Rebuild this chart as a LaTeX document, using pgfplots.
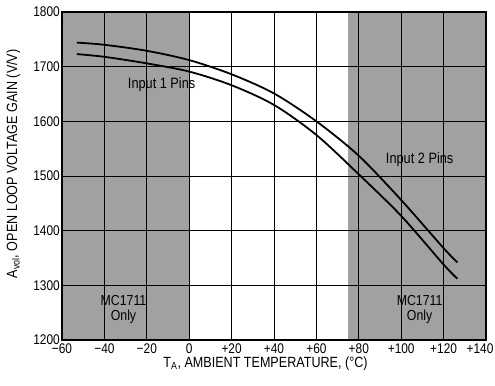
\documentclass[border=0pt]{standalone}
\usepackage{pgfplots}
\pgfplotsset{compat=1.18}
\usepackage{fontspec}
\setmainfont{Liberation Sans}[FakeStretch=0.85]

\begin{document}
\fontsize{14}{16}\selectfont
\begin{tikzpicture}
\begin{axis}[
    width=424pt, height=328pt, scale only axis,
    xmin=-60, xmax=140,
    ymin=1200, ymax=1800,
    xtick={-60,-40,...,140},
    xticklabels={−60,−40,−20,0,+20,+40,+60,+80,+100,+120,\hspace*{-12pt}+140},
    ytick={1200,1300,...,1800},
    yticklabels={\raisebox{-3pt}{1200},1300,1400,1500,1600,1700,1800},
    /pgf/number format/assume math mode=true,
    major tick length=0pt,
    grid=major,
    major grid style={black, line width=0.8pt},
    axis line style={black, line width=1.4pt},
    axis on top,
    xticklabel style={inner sep=1pt, yshift=-3pt},
    yticklabel style={inner sep=2pt},
    xlabel={T\textsubscript{A}, AMBIENT TEMPERATURE, (°C)},
    ylabel={A\textsubscript{vol}, OPEN LOOP VOLTAGE GAIN (V/V)},
    label style={font=\fontsize{14.8}{16}\selectfont},
    xlabel style={at={(axis description cs:0.48,-0.073)}, anchor=center},
    ylabel style={at={(axis description cs:-0.115,0.537)}, anchor=center},
]
% temperature ranges for MC1711 only
\addplot[fill=black!37, draw=none, forget plot]
    coordinates {(-60,1200) (-60,1800) (0,1800) (0,1200)} -- cycle;
\addplot[fill=black!37, draw=none, forget plot]
    coordinates {(75,1200) (75,1800) (140,1800) (140,1200)} -- cycle;

% upper curve
\addplot[black, line width=1.8pt, smooth] coordinates {
    (-53,1744) (-40,1740) (-20,1729) (0,1712) (20,1686) (40,1651)
    (60,1600) (80,1537) (100,1456) (120,1368) (126.5,1342)
};
% lower curve
\addplot[black, line width=1.8pt, smooth] coordinates {
    (-53,1723) (-40,1718) (-20,1706) (0,1691) (20,1666) (40,1630)
    (60,1575) (80,1503) (100,1427) (120,1338) (126.5,1312)
};

\node[font=\fontsize{15}{16}\selectfont] at (axis cs:-13,1668) {Input 1 Pins};
\node[font=\fontsize{15}{16}\selectfont] at (axis cs:108.7,1530) {Input 2 Pins};
\node[align=center, inner sep=0pt, font=\fontsize{14.5}{16}\selectfont] at (axis cs:-31,1256) {MC1711\\[-1pt]Only};
\node[align=center, inner sep=0pt, font=\fontsize{14.5}{16}\selectfont] at (axis cs:108.7,1256) {MC1711\\[-1pt]Only};
\end{axis}
\path (current axis.south west) ++(-62pt,-46pt) coordinate (bbA);
\path (current axis.north east) ++(9pt,12pt) coordinate (bbB);
\pgfresetboundingbox
\path (bbA) rectangle (bbB);
\end{tikzpicture}
\end{document}
